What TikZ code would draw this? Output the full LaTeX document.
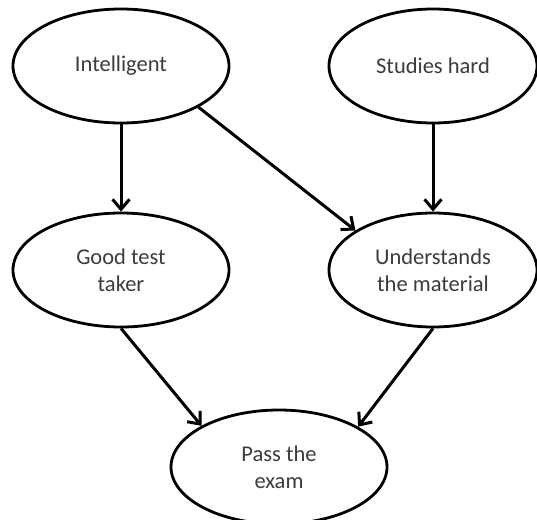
\documentclass[tikz,border=0pt]{standalone}
\usepackage{fontspec}
\setmainfont{Carlito}
\usetikzlibrary{shapes.geometric,arrows.meta}
\definecolor{txt}{HTML}{3C3C3C}
\tikzset{
  var/.style={ellipse, draw=black, line width=2.8pt, fill=white,
    minimum width=216pt, minimum height=114pt, inner sep=0pt,
    align=center, text=txt, font=\fontsize{22.5}{27}\selectfont},
  narrow/.style={minimum width=208pt},
  arr/.style={line width=3pt, -{Straight Barb[length=10pt,width=17pt]}}
}
\begin{document}
\begin{tikzpicture}[x=1pt,y=-1pt]
  \useasboundingbox (0,0) rectangle (537,519);
  \clip (0,0) rectangle (537,519);
  \node[var] (int)  at (121,66)  {Intelligent};
  \node[var,narrow] (stu)  at (433,66)  {Studies hard};
  \node[var] (good) at (121,270) {Good test\\taker};
  \node[var,narrow] (und)  at (433,270) {Understands\\the material};
  \node[var] (pass) at (279,467) {Pass the\\exam};
  \draw[arr] (int.south) -- (good.north);
  \draw[arr] (int.-28) -- (und.153);
  \draw[arr] (stu.south) -- (und.north);
  \draw[arr] (good.south) -- (pass.152);
  \draw[arr] (und.south) -- (pass.27);
\end{tikzpicture}
\end{document}
